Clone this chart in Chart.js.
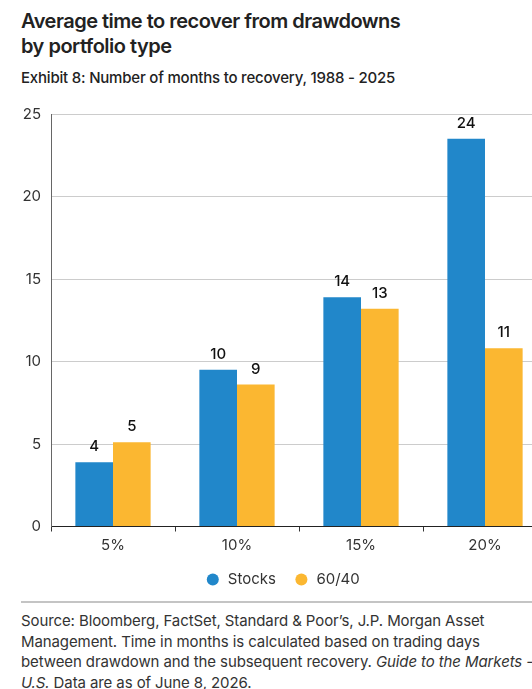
<!DOCTYPE html>
<html>
<head>
<meta charset="utf-8">
<script src="https://cdn.jsdelivr.net/npm/chart.js@4.4.1/dist/chart.umd.min.js"></script>
<style>
    html, body {
        margin: 0;
        padding: 0;
        background: #fff;
        width: 532px;
        height: 689px;
        overflow: hidden;
        font-family: Inter, "Noto Sans", sans-serif;
        color: #222;
    }
    .title {
        position: absolute;
        left: 21px;
        top: 9px;
        font-size: 20px;
        font-weight: 600;
        line-height: 25px;
        letter-spacing: -0.5px;
        color: #222;
    }
    .subtitle {
        position: absolute;
        left: 21px;
        top: 68px;
        font-size: 15px;
        font-weight: 500;
        color: #222;
        letter-spacing: -0.2px;
    }
    .chart-box {
        position: absolute;
        left: 0;
        top: 95px;
        width: 560px;
        height: 502px;
    }
    .footer {
        position: absolute;
        left: 21px;
        top: 601px;
        width: 540px;
        border-top: 2px solid #c4c4c4;
        padding-top: 8px;
        font-size: 15px;
        line-height: 20.5px;
        letter-spacing: -0.1px;
        color: #333;
        white-space: nowrap;
    }
</style>
</head>
<body>
<div class="title">Average time to recover from drawdowns<br>by portfolio type</div>
<div class="subtitle">Exhibit 8: Number of months to recovery, 1988 - 2025</div>
<div class="chart-box"><canvas id="mainChart" width="560" height="502"></canvas></div>
<div class="footer">Source: Bloomberg, FactSet, Standard &amp; Poor’s, J.P. Morgan Asset<br>Management. Time in months is calculated based on trading days<br>between drawdown and the subsequent recovery. <i>Guide to the Markets -</i><br><i>U.S.</i> Data are as of June 8, 2026.</div>

<script>
// Chart data
const categories = ["5%", "10%", "15%", "20%"];
const stocksMonths = [3.9, 9.5, 13.9, 23.5];
const sixtyFortyMonths = [5.1, 8.6, 13.2, 10.8];
const stocksLabels = ["4", "10", "14", "24"];
const sixtyFortyLabels = ["5", "9", "13", "11"];
const yTicks = [0, 5, 10, 15, 20, 25];

const BLUE = "#2187ca";
const GOLD = "#fbb731";
const FONT = "Inter, 'Noto Sans', sans-serif";

// Value labels above each bar
const barLabels = {
    id: "barLabels",
    afterDatasetsDraw(chart) {
        const ctx = chart.ctx;
        ctx.save();
        ctx.font = "500 15px " + FONT;
        ctx.fillStyle = "#111";
        ctx.textAlign = "center";
        ctx.textBaseline = "alphabetic";
        chart.data.datasets.forEach((ds, i) => {
            const meta = chart.getDatasetMeta(i);
            meta.data.forEach((bar, j) => {
                ctx.fillText(ds.labelText[j], bar.x, bar.y - 11);
            });
        });
        ctx.restore();
    }
};

const ctx = document.getElementById("mainChart").getContext("2d");
new Chart(ctx, {
    type: "bar",
    data: {
        labels: categories,
        datasets: [
            {
                label: "Stocks",
                data: stocksMonths,
                labelText: stocksLabels,
                backgroundColor: BLUE,
                categoryPercentage: 0.607,
                barPercentage: 1.0
            },
            {
                label: "60/40",
                data: sixtyFortyMonths,
                labelText: sixtyFortyLabels,
                backgroundColor: GOLD,
                categoryPercentage: 0.607,
                barPercentage: 1.0
            }
        ]
    },
    options: {
        responsive: false,
        animation: false,
        layout: {
            padding: { top: 16, right: 13, left: 18, bottom: 0 }
        },
        plugins: {
            legend: {
                position: "bottom",
                labels: {
                    usePointStyle: true,
                    pointStyle: "circle",
                    boxWidth: 15,
                    boxHeight: 8.5,
                    padding: 18,
                    color: "#333",
                    font: { family: FONT, size: 15 }
                }
            },
            tooltip: { enabled: false }
        },
        scales: {
            x: {
                grid: {
                    drawOnChartArea: false,
                    drawTicks: true,
                    tickLength: 5,
                    color: "#333"
                },
                border: { color: "#222", width: 1 },
                ticks: {
                    padding: 5,
                    color: "#333",
                    font: { family: FONT, size: 15 }
                },
                afterFit(scale) { scale.height = 27.5; }
            },
            y: {
                min: 0,
                max: 25,
                afterBuildTicks(scale) {
                    scale.ticks = yTicks.map(v => ({ value: v }));
                },
                grid: {
                    drawTicks: false,
                    color: c => (c.tick && c.tick.value === 0 ? "rgba(0,0,0,0)" : "#cccccc")
                },
                border: { color: "#666", width: 1 },
                ticks: {
                    padding: 10,
                    color: "#333",
                    font: { family: FONT, size: 15 }
                },
                afterFit(scale) { scale.width = 33; }
            }
        }
    },
    plugins: [barLabels]
});
</script>
</body>
</html>
